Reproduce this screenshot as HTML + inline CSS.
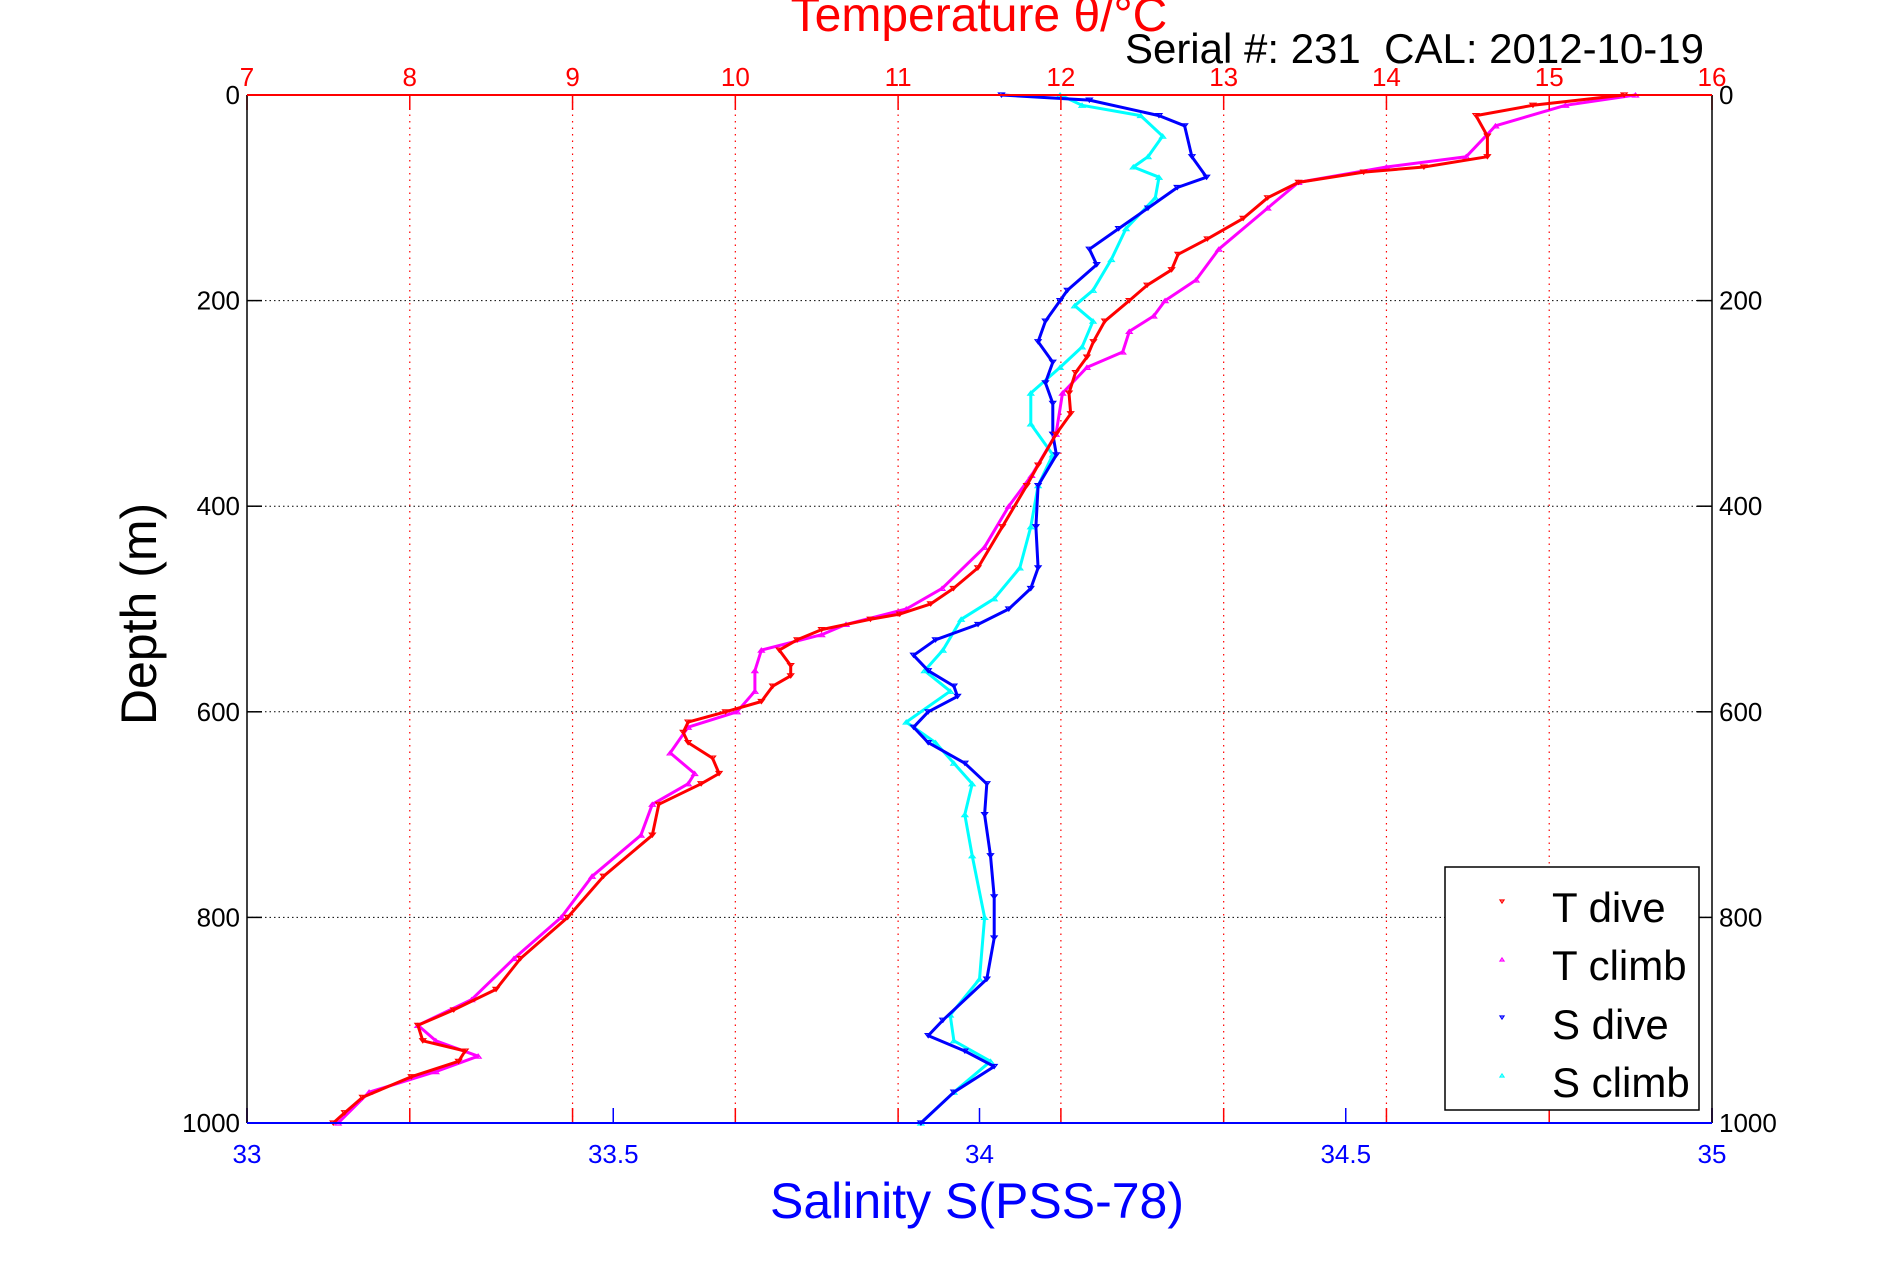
<!DOCTYPE html>
<html><head><meta charset="utf-8"><style>
html,body{margin:0;padding:0;background:#fff;}
svg{display:block;font-family:"Liberation Sans",Arial,sans-serif;}
</style></head><body>
<svg id="chart" width="1891" height="1262" viewBox="0 0 1891 1262" xmlns="http://www.w3.org/2000/svg">
<rect width="1891" height="1262" fill="#fff"/>
<g id="grid"></g>
<g id="series"></g>
<g id="axes"></g>
<text x="979" y="31" font-size="48" fill="#ff0000" text-anchor="middle">Temperature θ/°C</text>
<text x="1704" y="63" font-size="42" fill="#000" text-anchor="end">Serial #: 231&#160;&#160;CAL: 2012-10-19</text>
<text transform="translate(156,614) rotate(-90)" font-size="50" fill="#000" text-anchor="middle">Depth (m)</text>
<text x="977" y="1218" font-size="50" fill="#0000ff" text-anchor="middle">Salinity S(PSS-78)</text>
<g>
<rect x="1445" y="867" width="254" height="243" fill="#fff" stroke="#000" stroke-width="1.5"/>
<g><path d="M1500 900 l4 0 l-2 3z" fill="none" stroke="#f00" stroke-width="1.2"/><text x="1552" y="922" font-size="42">T dive</text></g>
<g><path d="M1500 961 l4 0 l-2 -3z" fill="none" stroke="#f0f" stroke-width="1.2"/><text x="1552" y="980" font-size="42">T climb</text></g>
<g><path d="M1500 1016 l4 0 l-2 3z" fill="none" stroke="#00f" stroke-width="1.2"/><text x="1552" y="1039" font-size="42">S dive</text></g>
<g><path d="M1500 1077 l4 0 l-2 -3z" fill="none" stroke="#0ff" stroke-width="1.2"/><text x="1552" y="1097" font-size="42">S climb</text></g>
</g>
</svg>
<script>
const tempTicks=[7,8,9,10,11,12,13,14,15,16];
const salTicks=[33,33.5,34,34.5,35];
const depthTicks=[0,200,400,600,800,1000];
const tDiveDepth=[0,10,20,40,60,70,75,85,100,120,140,155,170,185,200,220,240,255,270,290,310,330,360,380,420,460,480,495,505,510,520,530,540,555,565,575,590,600,610,620,630,645,660,670,690,720,760,800,840,870,890,905,920,930,940,955,975,990,1000];
const tDiveTemp=[15.46,14.9,14.55,14.62,14.62,14.23,13.86,13.46,13.27,13.12,12.9,12.72,12.68,12.53,12.42,12.27,12.2,12.16,12.09,12.05,12.06,11.97,11.86,11.79,11.64,11.49,11.34,11.2,11.01,10.83,10.53,10.38,10.27,10.34,10.34,10.23,10.16,9.94,9.71,9.68,9.71,9.86,9.9,9.79,9.53,9.49,9.19,8.97,8.68,8.53,8.27,8.05,8.08,8.34,8.3,8.01,7.71,7.6,7.53];
const tClimbDepth=[0,10,30,60,70,85,110,150,180,200,215,230,250,265,290,330,370,400,440,480,500,515,525,540,560,580,600,615,640,660,670,690,720,760,800,840,880,905,920,935,950,970,1000];
const tClimbTemp=[15.53,15.1,14.67,14.49,14.0,13.46,13.27,12.97,12.83,12.64,12.57,12.42,12.38,12.16,12.01,11.97,11.82,11.68,11.53,11.27,11.05,10.68,10.53,10.16,10.12,10.12,10.01,9.71,9.6,9.75,9.71,9.49,9.42,9.12,8.93,8.64,8.38,8.05,8.16,8.42,8.16,7.75,7.56];
const sDiveDepth=[0,5,20,30,60,80,90,110,130,150,165,190,200,220,240,260,280,300,330,350,380,420,460,480,500,515,530,545,560,575,585,600,615,630,650,670,700,740,780,820,860,900,915,930,945,970,1000];
const sDiveSal=[34.03,34.15,34.245,34.28,34.29,34.31,34.27,34.23,34.19,34.15,34.16,34.12,34.11,34.09,34.08,34.1,34.09,34.1,34.1,34.105,34.08,34.077,34.08,34.07,34.04,33.998,33.94,33.91,33.93,33.965,33.97,33.93,33.91,33.93,33.98,34.01,34.007,34.015,34.02,34.02,34.01,33.95,33.93,33.98,34.02,33.965,33.92];
const sClimbDepth=[0,10,20,40,60,70,80,100,130,160,190,205,220,245,265,290,320,350,380,420,460,490,510,540,560,580,610,630,650,670,700,740,800,860,895,920,940,970,1000];
const sClimbSal=[34.11,34.14,34.22,34.25,34.23,34.21,34.245,34.24,34.2,34.18,34.155,34.13,34.155,34.14,34.11,34.07,34.07,34.1,34.08,34.07,34.055,34.02,33.975,33.95,33.925,33.96,33.9,33.94,33.965,33.99,33.98,33.99,34.007,34.0,33.96,33.965,34.015,33.965,33.92];

const L=247,R=1712,T=95,B=1123;
const xT=v=>L+(v-7)/9*(R-L);
const xS=v=>L+(v-33)/2*(R-L);
const yD=d=>T+d/1000*(B-T);
const NS='http://www.w3.org/2000/svg';
function mk(tag,attrs,parent){const e=document.createElementNS(NS,tag);for(const k in attrs)e.setAttribute(k,attrs[k]);parent.appendChild(e);return e;}
const grid=document.getElementById('grid'),axes=document.getElementById('axes'),ser=document.getElementById('series');

tempTicks.forEach(t=>{
  const x=xT(t);
  if(t>7&&t<16){const g=mk('line',{x1:x,x2:x,y1:T,y2:B,stroke:'#f00','stroke-width':1.2,'stroke-dasharray':'1.5 5'},grid);
  
  }
  const tk=mk('line',{x1:x,x2:x,y1:T,y2:T+15,stroke:'#f00','stroke-width':1.5},axes);
  
  
  const tb=mk('line',{x1:x,x2:x,y1:B,y2:B-15,stroke:'#f00','stroke-width':1.5},axes);
  
  
  const lb=mk('text',{x:x,y:86,'font-size':26,fill:'#f00','text-anchor':'middle'},axes);lb.textContent=t;
  
  
});
depthTicks.forEach(d=>{
  const y=yD(d);
  if(d>0&&d<1000){const g=mk('line',{x1:L,x2:R,y1:y,y2:y,stroke:'#000','stroke-width':1,'stroke-dasharray':'1.5 3'},grid);
  
  }
  mk('line',{x1:L,x2:L+15,y1:y,y2:y,stroke:'#000','stroke-width':1.5},axes);
  mk('line',{x1:R,x2:R-15,y1:y,y2:y,stroke:'#000','stroke-width':1.5},axes);
  const a=mk('text',{x:L-7,y:y+9,'font-size':26,'text-anchor':'end'},axes);a.textContent=d;
  
  
  const b=mk('text',{x:R+7,y:y+9,'font-size':26},axes);b.textContent=d;
  
  
});
salTicks.forEach(s=>{
  const x=xS(s);
  mk('line',{x1:x,x2:x,y1:B,y2:B-15,stroke:'#00f','stroke-width':1.5},axes);
  const lb=mk('text',{x:x,y:1163,'font-size':26,fill:'#00f','text-anchor':'middle'},axes);lb.textContent=s;
  
  
});
mk('line',{x1:L,x2:L,y1:T,y2:B,stroke:'#000','stroke-width':1.5},axes);
mk('line',{x1:R,x2:R,y1:T,y2:B,stroke:'#000','stroke-width':1.5},axes);
mk('line',{x1:L,x2:R,y1:T,y2:T,stroke:'#f00','stroke-width':2},axes);
mk('line',{x1:L,x2:R,y1:B,y2:B,stroke:'#00f','stroke-width':2},axes);

function series(depths,vals,xf,color,down,name){
  const g=mk('g',{},ser);
  
  
  const pts=depths.map((d,i)=>xf(vals[i]).toFixed(1)+','+yD(d).toFixed(1)).join(' ');
  const pl=mk('polyline',{points:pts,fill:'none',stroke:color,'stroke-width':3,'stroke-linejoin':'round'},g);
  
  
  depths.forEach((d,i)=>{
    const x=xf(vals[i]),y=yD(d);
    const p=mk('path',{d:down?`M${x-3} ${y-2} h6 l-3 4z`:`M${x-3} ${y+2} h6 l-3 -4z`,fill:'none',stroke:color,'stroke-width':1.2},g);
    
    
  });
}
series(sClimbDepth,sClimbSal,xS,'#00ffff',false,'s-climb-series');
series(sDiveDepth,sDiveSal,xS,'#0000ff',true,'s-dive-series');
series(tClimbDepth,tClimbTemp,xT,'#ff00ff',false,'t-climb-series');
series(tDiveDepth,tDiveTemp,xT,'#ff0000',true,'t-dive-series');
</script>
</body></html>
